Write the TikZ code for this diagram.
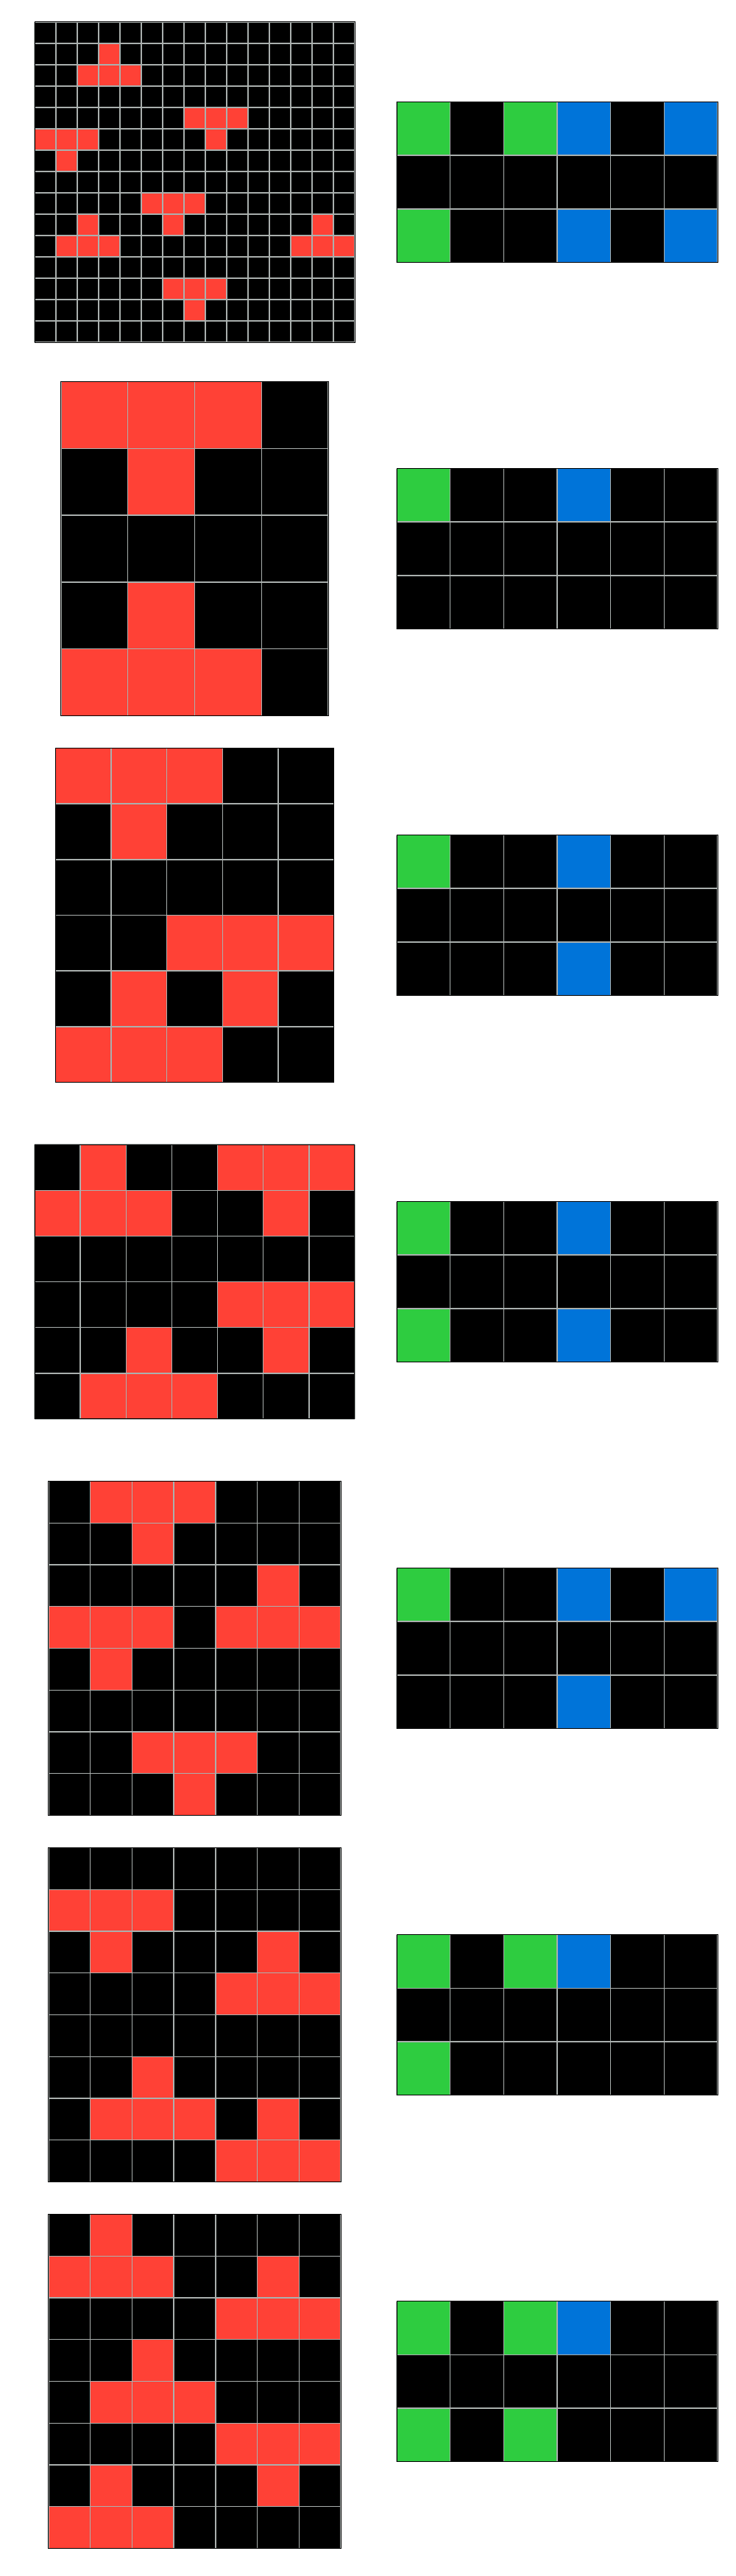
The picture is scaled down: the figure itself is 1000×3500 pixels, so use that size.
\documentclass[tikz,border=0pt]{standalone}
\definecolor{col0}{HTML}{000000}
\definecolor{col1}{HTML}{0074D9}
\definecolor{col2}{HTML}{FF4136}
\definecolor{col3}{HTML}{2ECC40}
\definecolor{gridgray}{HTML}{AAB0AE}
\tikzset{
  gl/.style={draw=gridgray, line width=1.4pt},
  frame/.style={draw=black, line width=1pt},
}
% #1 cx, #2 cy, #3 cell, #4 ncols, #5 nrows, #6 data
\newcommand{\arcgrid}[6]{%
  \pgfmathsetmacro{\gx}{#1-#4*#3/2}%
  \pgfmathsetmacro{\gy}{#2-#5*#3/2}%
  \foreach \rowdata [count=\ri from 0] in {#6} {
    \foreach \cv [count=\ci from 0] in \rowdata {
      \fill[fill=col\cv] ({\gx+\ci*#3},{\gy+\ri*#3}) rectangle ++(#3,#3);
    }
  }
  \foreach \ci in {0,...,#4} \draw[gl] ({\gx+\ci*#3},\gy) -- ++(0,{#5*#3});
  \foreach \ri in {0,...,#5} \draw[gl] (\gx,{\gy+\ri*#3}) -- ++({#4*#3},0);
  \draw[frame] (\gx,\gy) rectangle ++({#4*#3},{#5*#3});
}
\begin{document}
\begin{tikzpicture}[x=1pt,y=-1pt]
\useasboundingbox[fill=white] (0,0) rectangle (1000,3500);
% ---- pair 1
\arcgrid{264.5}{247.5}{29}{15}{15}{
{0,0,0,0,0,0,0,0,0,0,0,0,0,0,0},
{0,0,0,2,0,0,0,0,0,0,0,0,0,0,0},
{0,0,2,2,2,0,0,0,0,0,0,0,0,0,0},
{0,0,0,0,0,0,0,0,0,0,0,0,0,0,0},
{0,0,0,0,0,0,0,2,2,2,0,0,0,0,0},
{2,2,2,0,0,0,0,0,2,0,0,0,0,0,0},
{0,2,0,0,0,0,0,0,0,0,0,0,0,0,0},
{0,0,0,0,0,0,0,0,0,0,0,0,0,0,0},
{0,0,0,0,0,2,2,2,0,0,0,0,0,0,0},
{0,0,2,0,0,0,2,0,0,0,0,0,0,2,0},
{0,2,2,2,0,0,0,0,0,0,0,0,2,2,2},
{0,0,0,0,0,0,0,0,0,0,0,0,0,0,0},
{0,0,0,0,0,0,2,2,2,0,0,0,0,0,0},
{0,0,0,0,0,0,0,2,0,0,0,0,0,0,0},
{0,0,0,0,0,0,0,0,0,0,0,0,0,0,0}}
\arcgrid{757}{247.5}{72.667}{6}{3}{
{3,0,3,1,0,1},{0,0,0,0,0,0},{3,0,0,1,0,1}}
% ---- pair 2
\arcgrid{264.5}{745.5}{90.8}{4}{5}{
{2,2,2,0},{0,2,0,0},{0,0,0,0},{0,2,0,0},{2,2,2,0}}
\arcgrid{757}{745.5}{72.667}{6}{3}{
{3,0,0,1,0,0},{0,0,0,0,0,0},{0,0,0,0,0,0}}
% ---- pair 3
\arcgrid{264.5}{1243.5}{75.67}{5}{6}{
{2,2,2,0,0},{0,2,0,0,0},{0,0,0,0,0},{0,0,2,2,2},{0,2,0,2,0},{2,2,2,0,0}}
\arcgrid{757}{1243.5}{72.667}{6}{3}{
{3,0,0,1,0,0},{0,0,0,0,0,0},{0,0,0,1,0,0}}
% ---- pair 4
\arcgrid{264.5}{1741.5}{62.14}{7}{6}{
{0,2,0,0,2,2,2},{2,2,2,0,0,2,0},{0,0,0,0,0,0,0},{0,0,0,0,2,2,2},{0,0,2,0,0,2,0},{0,2,2,2,0,0,0}}
\arcgrid{757}{1741.5}{72.667}{6}{3}{
{3,0,0,1,0,0},{0,0,0,0,0,0},{3,0,0,1,0,0}}
% ---- pair 5
\arcgrid{264.5}{2239.5}{56.75}{7}{8}{
{0,2,2,2,0,0,0},{0,0,2,0,0,0,0},{0,0,0,0,0,2,0},{2,2,2,0,2,2,2},{0,2,0,0,0,0,0},{0,0,0,0,0,0,0},{0,0,2,2,2,0,0},{0,0,0,2,0,0,0}}
\arcgrid{757}{2239.5}{72.667}{6}{3}{
{3,0,0,1,0,1},{0,0,0,0,0,0},{0,0,0,1,0,0}}
% ---- pair 6
\arcgrid{264.5}{2737.5}{56.75}{7}{8}{
{0,0,0,0,0,0,0},{2,2,2,0,0,0,0},{0,2,0,0,0,2,0},{0,0,0,0,2,2,2},{0,0,0,0,0,0,0},{0,0,2,0,0,0,0},{0,2,2,2,0,2,0},{0,0,0,0,2,2,2}}
\arcgrid{757}{2737.5}{72.667}{6}{3}{
{3,0,3,1,0,0},{0,0,0,0,0,0},{3,0,0,0,0,0}}
% ---- pair 7
\arcgrid{264.5}{3235.5}{56.75}{7}{8}{
{0,2,0,0,0,0,0},{2,2,2,0,0,2,0},{0,0,0,0,2,2,2},{0,0,2,0,0,0,0},{0,2,2,2,0,0,0},{0,0,0,0,2,2,2},{0,2,0,0,0,2,0},{2,2,2,0,0,0,0}}
\arcgrid{757}{3235.5}{72.667}{6}{3}{
{3,0,3,1,0,0},{0,0,0,0,0,0},{3,0,3,0,0,0}}
\end{tikzpicture}
\end{document}
